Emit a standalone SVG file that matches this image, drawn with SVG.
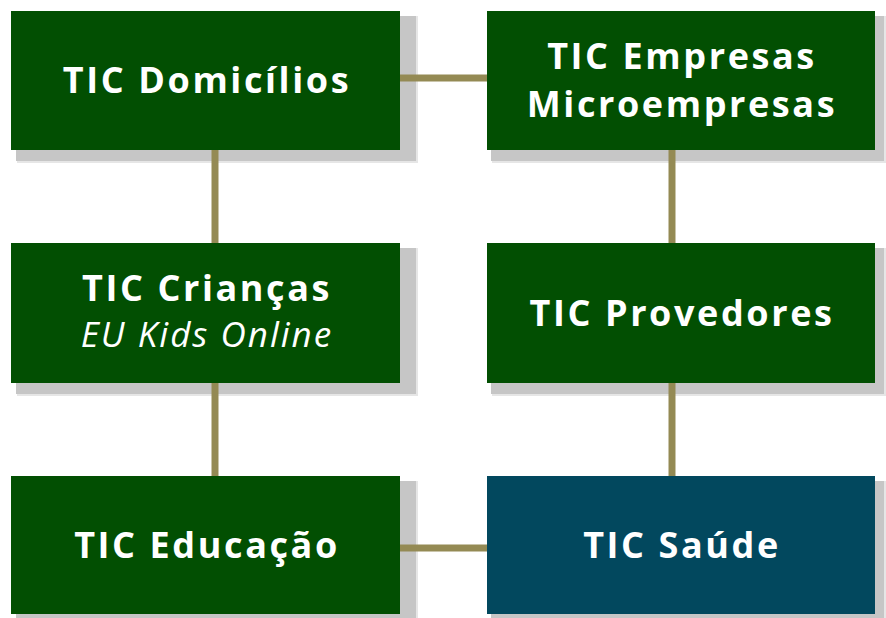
<svg xmlns="http://www.w3.org/2000/svg" width="886" height="618" viewBox="0 0 886 618">
<style>
.sh{fill:#c6c6c6}
.sh2{fill:#e6e6e6}
.g{fill:#024f02}
.b{fill:#02485e}
.t{font-family:"Open Sans","Liberation Sans",sans-serif;font-weight:bold;font-size:36px;letter-spacing:2.6px;fill:#ffffff;text-anchor:middle}
.i{font-family:"Open Sans","Liberation Sans",sans-serif;font-style:italic;font-size:35px;letter-spacing:2px;fill:#ffffff;text-anchor:middle}
.c{stroke:#948a54;stroke-width:7;fill:none}
</style>
<g id="n1">
<rect class="sh2" x="17" y="16" width="401" height="147"/>
<rect class="sh" x="16" y="16" width="400" height="145"/>
<rect class="g" x="11" y="11" width="389" height="139"/>
<text class="t" x="207" y="93">TIC Domicílios</text>
</g>
<g id="n2">
<rect class="sh2" x="492" y="16" width="394" height="147"/>
<rect class="sh" x="491" y="16" width="393" height="145"/>
<rect class="g" x="487" y="11" width="388" height="139"/>
<text class="t" x="682" y="69">TIC Empresas</text>
<text class="t" x="682" y="117">Microempresas</text>
</g>
<g id="n3">
<rect class="sh2" x="17" y="248" width="401" height="148"/>
<rect class="sh" x="16" y="248" width="400" height="146"/>
<rect class="g" x="11" y="243" width="389" height="140"/>
<text class="t" x="207" y="301">TIC Crianças</text>
<text class="i" x="207" y="347">EU Kids Online</text>
</g>
<g id="n4">
<rect class="sh2" x="492" y="248" width="394" height="148"/>
<rect class="sh" x="491" y="248" width="393" height="146"/>
<rect class="g" x="487" y="243" width="388" height="140"/>
<text class="t" x="682" y="326">TIC Provedores</text>
</g>
<g id="n5">
<rect class="sh2" x="17" y="481" width="401" height="137"/>
<rect class="sh" x="16" y="481" width="400" height="137"/>
<rect class="g" x="11" y="476" width="389" height="138"/>
<text class="t" x="207" y="558">TIC Educação</text>
</g>
<g id="n6">
<rect class="sh2" x="492" y="481" width="394" height="137"/>
<rect class="sh" x="491" y="481" width="393" height="137"/>
<rect class="b" x="487" y="476" width="388" height="138"/>
<text class="t" x="682" y="558">TIC Saúde</text>
</g>
<g id="connectors">
<line class="c" x1="400" y1="78" x2="487" y2="78"/>
<line class="c" x1="215" y1="150" x2="215" y2="243"/>
<line class="c" x1="215" y1="383" x2="215" y2="476"/>
<line class="c" x1="672" y1="150" x2="672" y2="243"/>
<line class="c" x1="672" y1="383" x2="672" y2="476"/>
<line class="c" x1="400" y1="548" x2="487" y2="548"/>
</g>
</svg>
